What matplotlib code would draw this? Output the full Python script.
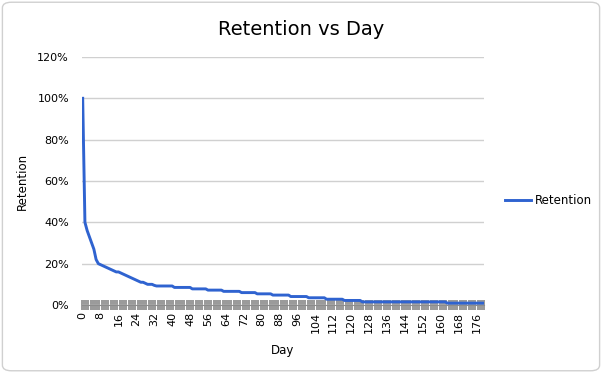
import matplotlib.pyplot as plt
import numpy as np
from matplotlib.patches import FancyBboxPatch
from matplotlib.ticker import PercentFormatter

# retention (%) by day
retention = [
    100, 40, 36, 33, 30, 27, 22, 20, 19.5, 19,
    18.5, 18, 17.5, 17, 16.5, 16, 16, 15.5, 15, 14.5,
    14, 13.5, 13, 12.5, 12, 11.5, 11, 11, 10.5, 10,
    10, 10, 9.5, 9.2, 9.2, 9.2, 9.2, 9.2, 9.2, 9.2,
    9.2, 8.5, 8.5, 8.5, 8.5, 8.5, 8.5, 8.5, 8.5, 7.8,
    7.8, 7.8, 7.8, 7.8, 7.8, 7.8, 7.2, 7.2, 7.2, 7.2,
    7.2, 7.2, 7.2, 6.6, 6.6, 6.6, 6.6, 6.6, 6.6, 6.6,
    6.6, 6.0, 6.0, 6.0, 6.0, 6.0, 6.0, 6.0, 5.4, 5.4,
    5.4, 5.4, 5.4, 5.4, 5.4, 4.8, 4.8, 4.8, 4.8, 4.8,
    4.8, 4.8, 4.8, 4.1, 4.1, 4.1, 4.1, 4.1, 4.1, 4.1,
    4.1, 3.5, 3.5, 3.5, 3.5, 3.5, 3.5, 3.5, 3.5, 2.8,
    2.8, 2.8, 2.8, 2.8, 2.8, 2.8, 2.8, 2.2, 2.2, 2.2,
    2.2, 2.2, 2.2, 2.2, 2.2, 1.5, 1.5, 1.5, 1.5, 1.5,
    1.5, 1.5, 1.5, 1.5, 1.5, 1.5, 1.5, 1.5, 1.5, 1.5,
    1.5, 1.5, 1.5, 1.5, 1.5, 1.5, 1.5, 1.5, 1.5, 1.5,
    1.5, 1.5, 1.5, 1.5, 1.5, 1.5, 1.5, 1.5, 1.5, 1.5,
    1.5, 1.5, 1.5, 0.9, 0.9, 0.9, 0.9, 0.9, 0.9, 0.9,
    0.9, 0.9, 0.9, 0.9, 0.9, 0.9, 0.9, 0.9, 0.9, 0.9,
]
days = list(range(len(retention)))
yticks = [0, 20, 40, 60, 80, 100, 120]

fig = plt.figure(figsize=(6.02, 3.73), dpi=100)
fig.patches.append(FancyBboxPatch((0.004, 0.006), 0.992, 0.988,
                                  boxstyle="round,pad=0,rounding_size=0.015",
                                  transform=fig.transFigure, fc='white',
                                  ec='#d0d0d0', lw=1, zorder=-10))
ax = fig.add_axes([0.1355, 0.1823, 0.669, 0.665])
ax.set_facecolor('none')

ax.plot(days, retention, color='#2F63D0', lw=2.1, label='Retention',
        solid_joinstyle='round', zorder=3)

ax.set_xlim(-0.5, len(days) - 0.5)
ax.set_ylim(0, 120)
ax.set_yticks(yticks)
ax.yaxis.set_major_formatter(PercentFormatter(decimals=0))
ax.grid(axis='y', color='#d0d0d0', lw=1)
ax.set_axisbelow(True)

ax.set_xticks(days[::8])
ax.set_xticklabels([str(d) for d in days[::8]], rotation=90)
ax.set_xticks(np.arange(len(days) + 1) - 0.5, minor=True)
ax.tick_params(axis='x', which='major', length=0, pad=5, labelsize=8)
ax.tick_params(axis='x', which='minor', length=7, width=1.25,
               direction='inout', color='#8c8c8c')
ax.tick_params(axis='y', length=0, labelsize=8, pad=9)

for s in ['top', 'right', 'left']:
    ax.spines[s].set_visible(False)
ax.spines['bottom'].set_color('#8c8c8c')

ax.set_xlabel('Day', fontsize=8.5, labelpad=8)
ax.set_ylabel('Retention', fontsize=8.5, labelpad=6)
fig.text(0.5, 0.92, 'Retention vs Day', ha='center', va='center', fontsize=14)

ax.legend(loc='center left', bbox_to_anchor=(1.025, 0.42), frameon=False,
          fontsize=8.5, handlelength=2.2, handletextpad=0.3)

fig.savefig('out.png', dpi=100)
